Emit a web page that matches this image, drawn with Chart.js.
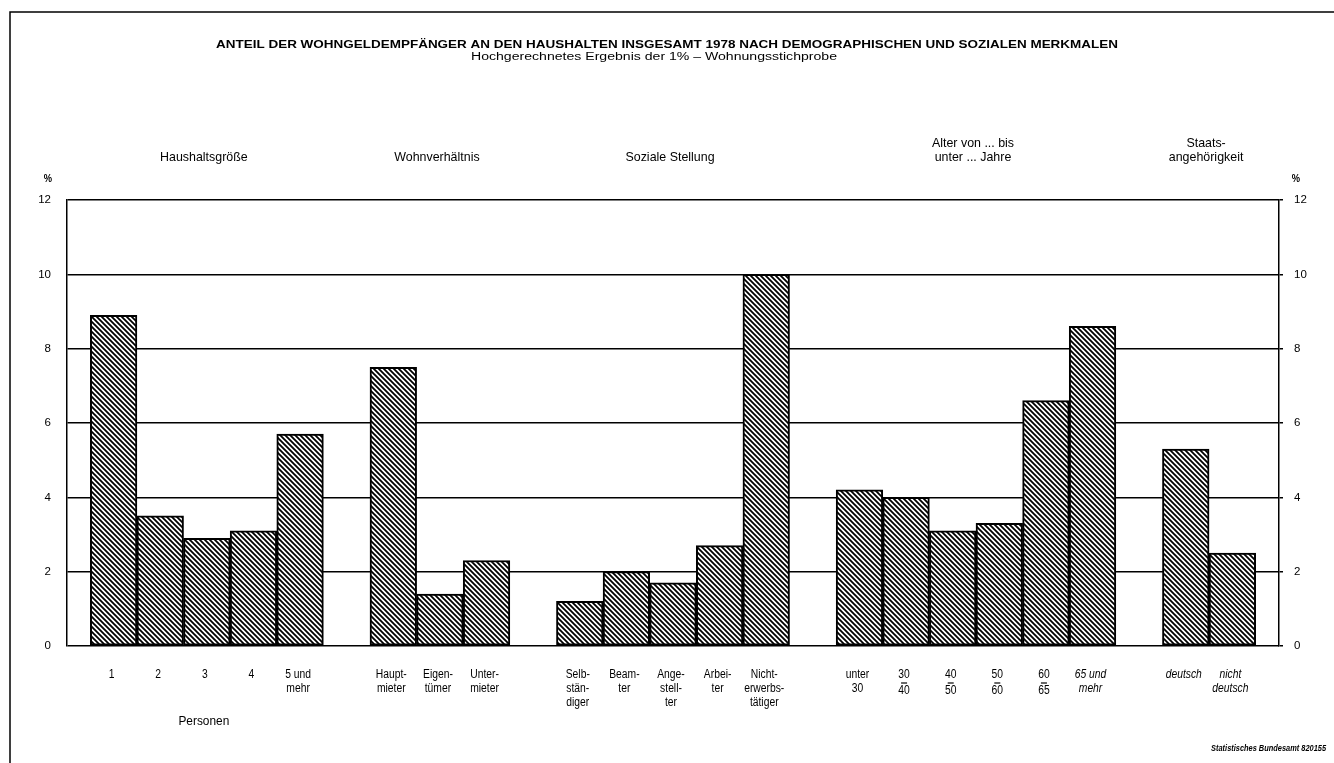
<!DOCTYPE html>
<html>
<head>
<meta charset="utf-8">
<script src="https://cdn.jsdelivr.net/npm/chart.js@4.4.0/dist/chart.umd.min.js"></script>
<style>
  html, body { margin: 0; padding: 0; background: #fff; }
  canvas { display: block; }
</style>
</head>
<body>
<canvas id="c" width="1334" height="763"></canvas>
<script>
// ---- data ----
const titleText = 'ANTEIL DER WOHNGELDEMPFÄNGER AN DEN HAUSHALTEN INSGESAMT 1978 NACH DEMOGRAPHISCHEN UND SOZIALEN MERKMALEN';
const subtitleText = 'Hochgerechnetes Ergebnis der 1% – Wohnungsstichprobe';
const sourceText = 'Statistisches Bundesamt 820155';

const groupTitles = [
  ['Haushaltsgröße'],
  ['Wohnverhältnis'],
  ['Soziale Stellung'],
  ['Alter von ... bis', 'unter ... Jahre'],
  ['Staats-', 'angehörigkeit']
];
const groupFooters = ['Personen', '', '', '', ''];

const haushaltLabels = [['1'], ['2'], ['3'], ['4'], ['5 und', 'mehr']];
const haushaltValues = [8.9, 3.5, 2.9, 3.1, 5.7];

const wohnLabels = [['Haupt-', 'mieter'], ['Eigen-', 'tümer'], ['Unter-', 'mieter']];
const wohnValues = [7.5, 1.4, 2.3];

const sozialLabels = [['Selb-', 'stän-', 'diger'], ['Beam-', 'ter'], ['Ange-', 'stell-', 'ter'], ['Arbei-', 'ter'], ['Nicht-', 'erwerbs-', 'tätiger']];
const sozialValues = [1.2, 2.0, 1.7, 2.7, 10.0];

const alterLabels = [['unter', '30'], ['30', '‾40'], ['40', '‾50'], ['50', '‾60'], ['60', '‾65'], ['65 und', 'mehr']];
const alterValues = [4.2, 4.0, 3.1, 3.3, 6.6, 8.6];

const staatLabels = [['deutsch'], ['nicht', 'deutsch']];
const staatValues = [5.3, 2.5];

const yTicks = [0, 2, 4, 6, 8, 10, 12];

// ---- build category table (with spacer slots between groups) ----
const groupLabels = [haushaltLabels, wohnLabels, sozialLabels, alterLabels, staatLabels];
const groupValues = [haushaltValues, wohnValues, sozialValues, alterValues, staatValues];
const italicGroups = [false, false, false, false, true];

const cats = [''];
const vals = [null];
const catInfo = [null];
const groupRanges = [];
groupLabels.forEach((labs, g) => {
  if (g > 0) { cats.push(''); vals.push(null); catInfo.push(null); }
  const start = cats.length;
  labs.forEach((l, i) => {
    cats.push(l.join(' '));
    vals.push(groupValues[g][i]);
    catInfo.push({ lines: l, italic: italicGroups[g] || l[0] === '65 und' });
  });
  groupRanges.push([start, cats.length - 1]);
});
cats.push(''); vals.push(null); catInfo.push(null);

// ---- hatch pattern ----
function makeHatch() {
  const n = 5;
  const t = document.createElement('canvas');
  t.width = n; t.height = n;
  const c = t.getContext('2d');
  c.fillStyle = '#fff';
  c.fillRect(0, 0, n, n);
  c.strokeStyle = '#000';
  c.lineWidth = 1.8;
  c.beginPath();
  c.moveTo(-1, -1); c.lineTo(n + 1, n + 1);
  c.moveTo(-1, n - 1); c.lineTo(1, n + 1);
  c.moveTo(n - 1, -1); c.lineTo(n + 1, 1);
  c.stroke();
  return c.createPattern(t, 'repeat');
}
const hatch = makeHatch();

const FONT = '"Liberation Sans", "DejaVu Sans", sans-serif';
function txt(ctx, s, x, y, o) {
  o = o || {};
  const size = o.size || 11, weight = o.weight || 'normal', style = o.style || 'normal';
  ctx.save();
  ctx.font = `${style} ${weight} ${size}px ${FONT}`;
  let sx = o.sx || 0.82;
  if (o.width) sx = o.width / ctx.measureText(s).width;
  ctx.translate(x, y);
  ctx.scale(sx, 1);
  ctx.fillStyle = '#000';
  ctx.textAlign = o.align || 'center';
  ctx.textBaseline = 'middle';
  ctx.fillText(s, 0, 0);
  ctx.restore();
}

const decor = {
  id: 'decor',
  beforeDraw(chart) {
    const ctx = chart.ctx;
    ctx.save();
    ctx.fillStyle = '#fff';
    ctx.fillRect(0, 0, chart.width, chart.height);
    ctx.restore();
  },
  afterDraw(chart) {
    const ctx = chart.ctx;
    const xs = chart.scales.x;
    // page frame
    ctx.save();
    ctx.strokeStyle = '#000';
    ctx.lineWidth = 1.5;
    ctx.beginPath();
    ctx.moveTo(10, 763); ctx.lineTo(10, 12); ctx.lineTo(1334, 12);
    ctx.stroke();
    ctx.restore();

    txt(ctx, titleText, 667, 45, { size: 11.5, weight: 'bold', width: 902 });
    txt(ctx, subtitleText, 654, 57, { size: 10, width: 366 });

    // group headings & footers
    groupRanges.forEach((r, g) => {
      const cx = (xs.getPixelForValue(r[0]) + xs.getPixelForValue(r[1])) / 2;
      const lines = groupTitles[g];
      const baseY = 157 - (lines.length - 1) * 14;
      lines.forEach((l, i) => txt(ctx, l, cx - 3, baseY + i * 14, { size: 13.5, sx: 0.92 }));
      if (groupFooters[g]) txt(ctx, groupFooters[g], cx - 3, 722, { size: 12.5, sx: 0.95 });
    });

    // category labels
    catInfo.forEach((info, i) => {
      if (!info) return;
      const cx = xs.getPixelForValue(i) - 2;
      info.lines.forEach((l, k) => {
        let s = l, over = false;
        if (s.startsWith('‾')) { s = s.slice(1); over = true; }
        const y = 675 + k * 14 + (over ? 2 : 0);
        txt(ctx, s, cx, y, { size: 12, sx: 0.86, style: info.italic ? 'italic' : 'normal' });
        if (over) {
          ctx.save();
          ctx.strokeStyle = '#000';
          ctx.lineWidth = 1.2;
          ctx.beginPath();
          ctx.moveTo(cx - 3, y - 8); ctx.lineTo(cx + 3, y - 8);
          ctx.stroke();
          ctx.restore();
        }
      });
    });

    // percent signs
    txt(ctx, '%', 48, 179, { size: 11, weight: 'bold', sx: 0.85 });
    txt(ctx, '%', 1296, 179, { size: 11, weight: 'bold', sx: 0.85 });

    // source
    txt(ctx, sourceText, 1326, 748, { size: 9.5, style: 'italic', weight: 'bold', sx: 0.78, align: 'right' });
  }
};

new Chart(document.getElementById('c'), {
  type: 'bar',
  data: {
    labels: cats,
    datasets: [{
      data: vals,
      backgroundColor: hatch,
      borderColor: '#000',
      borderWidth: 2,
      borderSkipped: false,
      barPercentage: 1,
      categoryPercentage: 1
    }]
  },
  options: {
    responsive: false,
    animation: false,
    devicePixelRatio: 1,
    layout: { padding: { left: 0, right: 0, top: 200, bottom: 109 } },
    plugins: { legend: { display: false }, tooltip: { enabled: false }, title: { display: false } },
    scales: {
      x: {
        type: 'category',
        offset: false,
        grid: { display: false },
        border: { display: false },
        ticks: { display: false }
      },
      y: {
        position: 'left',
        min: 0, max: 12,
        afterFit(s) { s.width = 67; },
        afterBuildTicks(s) { s.ticks = yTicks.map(v => ({ value: v })); },
        grid: { color: '#000', lineWidth: 1.5, drawTicks: false },
        border: { display: true, color: '#000', width: 1.5 },
        ticks: { color: '#000', padding: 16, font: { family: FONT, size: 11.5 } }
      },
      y2: {
        position: 'right',
        min: 0, max: 12,
        afterFit(s) { s.width = 55; },
        afterBuildTicks(s) { s.ticks = yTicks.map(v => ({ value: v })); },
        grid: { display: true, drawOnChartArea: false, color: '#000', lineWidth: 1.5, tickLength: 4 },
        border: { display: true, color: '#000', width: 1.5 },
        ticks: { color: '#000', padding: 11, font: { family: FONT, size: 11.5 } }
      }
    }
  },
  plugins: [decor]
});
</script>
</body>
</html>
